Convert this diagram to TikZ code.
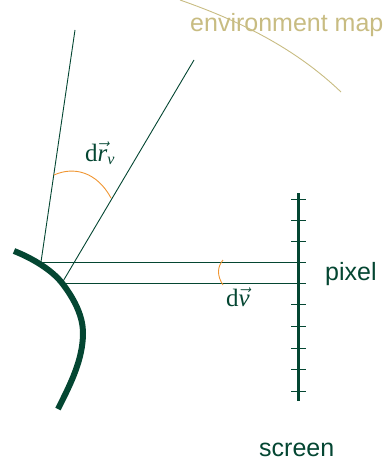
\documentclass[tikz,border=0pt]{standalone}
\usepackage{fontspec}
\setmainfont{Liberation Sans}
\newfontfamily\serifx{Liberation Serif}
\definecolor{dkgreen}{RGB}{4,70,50}
\definecolor{tan}{RGB}{200,188,130}
\definecolor{arcor}{RGB}{240,150,50}
\newcommand{\itx}[1]{\mbox{\serifx\itshape #1}}
\newcommand{\itsub}[1]{\mbox{\serifx\itshape\fontsize{16}{16}\selectfont #1}}
\tikzset{
  ray/.style={draw=dkgreen,line width=0.9pt},
  thick curve/.style={draw=dkgreen,line width=6pt},
  tickm/.style={draw=dkgreen,line width=0.9pt},
  anglearc/.style={draw=arcor,line width=0.9pt},
  lab/.style={text=dkgreen,font=\fontsize{25}{28}\selectfont,inner sep=0pt},
  mathlab/.style={text=dkgreen,font=\fontsize{25}{28}\selectfont,inner sep=0pt}
}
\begin{document}
\begin{tikzpicture}[x=1pt,y=-1pt]
\useasboundingbox (0,0) rectangle (388,460);
\coordinate (A) at (41,262);
\coordinate (B) at (62,283);
\coordinate (At) at (75,30);
\coordinate (Bt) at (194,60);
\coordinate (SA) at (298.5,262);
\coordinate (SB) at (298.5,283);
\coordinate (St) at (298.5,193);
\coordinate (Sb) at (298.5,401);
\draw[ray] (A) -- (At);
\draw[ray] (B) -- (Bt);
\draw[ray] (A) -- (SA);
\draw[ray] (B) -- (SB);
\foreach \y in {199.5,220.5,241.5,262,283,304.5,326,348,369,391}
  \draw[tickm] (291,\y) -- (306,\y);
\draw[draw=dkgreen,line width=3.2pt] (St) -- (Sb);
\draw[thick curve] (14,251) .. controls (32,258) and (52,270) .. (62,283)
  .. controls (76,301) and (83,318) .. (83,333)
  .. controls (83,360) and (70,385) .. (58,409);
\draw[anglearc] (54,175) .. controls (74,166) and (97,172) .. (111,198);
\draw[anglearc] (223,260) .. controls (217,267) and (217,276) .. (223,285);
\draw[draw=tan,line width=0.9pt] (180,0) .. controls (240,21) and (295,48) .. (341,92);
\node[lab,text=tan,anchor=base west] (env) at (190,32) {environment map};
\node[lab,anchor=base west] (pix) at (325,280) {pixel};
\node[lab,anchor=base west] (scr) at (259,456) {screen};
\node[mathlab,anchor=base west] (dr) at (85,161) {{\serifx d}$\vec{\itx{r}}_{\itsub{v}}$};
\node[mathlab,anchor=base west] (dv) at (226,306) {{\serifx d}$\vec{\itx{v}}$};
\end{tikzpicture}
\end{document}
